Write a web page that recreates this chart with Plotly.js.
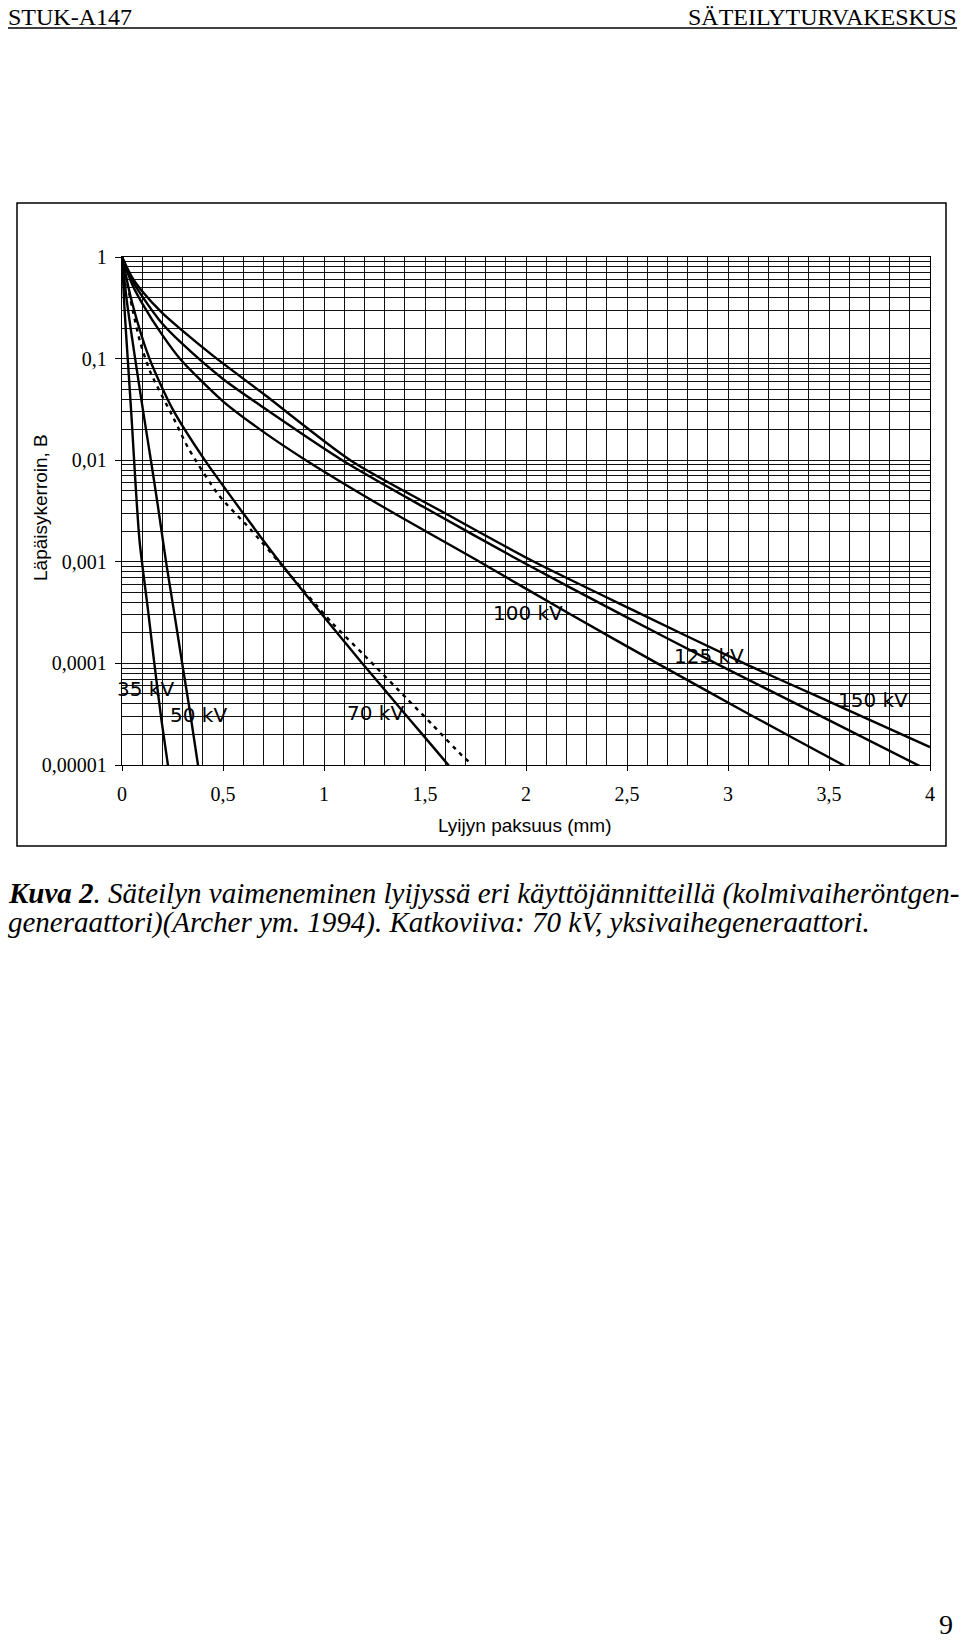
<!DOCTYPE html>
<html>
<head>
<meta charset="utf-8">
<script src="https://cdn.plot.ly/plotly-3.0.1.min.js"></script>
<style>
  html, body { margin: 0; padding: 0; background: #fff; }
  #graph { width: 960px; height: 1643px; }
</style>
</head>
<body>
<div id="graph"></div>
<script>
// Kuva 2 - lead thickness (mm) vs. transmission B
const x35 = [0, 0.012, 0.03, 0.048, 0.066, 0.087, 0.13, 0.16, 0.195, 0.231];
const b35 = [1, 0.32, 0.089, 0.025, 0.0063, 0.0016, 0.00032, 0.0001, 0.000028, 0.0000089];

const x50 = [0, 0.025, 0.065, 0.105, 0.143, 0.18, 0.218, 0.258, 0.298, 0.338, 0.38];
const b50 = [1, 0.355, 0.1, 0.03, 0.01, 0.0033, 0.001, 0.00032, 0.0001, 0.000032, 0.0000089];

const x70 = [0, 0.05, 0.136, 0.25, 0.41, 0.6, 0.78, 0.98, 1.19, 1.4, 1.615, 1.63];
const b70 = [1, 0.355, 0.1, 0.032, 0.01, 0.003, 0.001, 0.00032, 0.0001, 0.000032, 0.00001, 0.0000091];

// dotted: 70 kV, single phase generator
const x70single = [0, 0.05, 0.09, 0.14, 0.255, 0.33, 0.48, 0.635, 0.79, 1.04, 1.2, 1.41, 1.54, 1.69, 1.72];
const b70single = [1, 0.32, 0.145, 0.074, 0.026, 0.013, 0.0045, 0.0021, 0.00093, 0.00025, 0.00012, 0.000045, 0.0000245, 0.000012, 0.0000107];

const x100 = [0, 0.05, 0.1, 0.2, 0.29, 0.5, 0.7, 0.91, 1.3, 1.77, 2.2, 2.65, 3.1, 3.57, 3.61];
const b100 = [1, 0.54, 0.35, 0.17, 0.098, 0.038, 0.019, 0.01, 0.0034, 0.001, 0.00032, 0.0001, 0.000032, 0.00001, 0.0000091];

const x125 = [0, 0.05, 0.1, 0.2, 0.29, 0.5, 0.7, 1.09, 1.5, 1.98, 2.45, 2.94, 3.45, 3.97];
const b125 = [1, 0.59, 0.41, 0.22, 0.145, 0.063, 0.033, 0.01, 0.0034, 0.001, 0.00032, 0.0001, 0.000031, 0.0000093];

const x150 = [0, 0.05, 0.1, 0.2, 0.29, 0.45, 0.7, 1.13, 1.6, 2.04, 2.55, 3.08, 3.55, 4.0];
const b150 = [1, 0.63, 0.46, 0.28, 0.195, 0.107, 0.045, 0.01, 0.003, 0.001, 0.00032, 0.0001, 0.000038, 0.000015];

const curveNames = ['35 kV', '50 kV', '70 kV', '100 kV', '125 kV', '150 kV'];

const xTickVals = [0, 0.5, 1, 1.5, 2, 2.5, 3, 3.5, 4];
const xTickText = ['0', '0,5', '1', '1,5', '2', '2,5', '3', '3,5', '4'];
const yTickVals = [1, 0.1, 0.01, 0.001, 0.0001, 0.00001];
const yTickText = ['1', '0,1', '0,01', '0,001', '0,0001', '0,00001'];

// plot area in page pixels
const L = 122, T = 257, W = 808, H = 508;
function xp(px) { return (px - L) / W; }
function yp(py) { return (T + H - py) / H; }

// 2..9 lines inside every decade
const yMinor = [];
for (let e = -5; e < 0; e++) {
    for (let m = 2; m <= 9; m++) yMinor.push(m * Math.pow(10, e));
}

function curve(x, y, dash) {
    return {
        x: x,
        y: y,
        type: 'scatter',
        mode: 'lines',
        line: { color: '#000', width: 2.4, shape: 'spline', smoothing: 0.7, dash: dash || 'solid' },
        hoverinfo: 'skip',
        showlegend: false
    };
}

const traces = [
    curve(x35, b35),
    curve(x50, b50),
    curve(x70, b70),
    curve(x70single, b70single, '4px,5px'),
    curve(x100, b100),
    curve(x125, b125),
    curve(x150, b150)
];

const serif = 'Liberation Serif, Times New Roman, serif';
const sans = 'Liberation Sans, Arial, sans-serif';
const labelFont = { family: 'DejaVu Sans, sans-serif', size: 20, color: '#000' };

// curve labels: [x mm, log10 B]
const labelPos = [[0.118, -4.25], [0.378, -4.51], [1.254, -4.49], [2.011, -3.5], [2.907, -3.93], [3.719, -4.36]];

const annotations = curveNames.map((name, i) => ({
    x: labelPos[i][0], y: labelPos[i][1], xref: 'x', yref: 'y',
    text: name, showarrow: false, font: labelFont,
    xanchor: 'center', yanchor: 'middle'
}));

function pageText(text, x, y, xanchor, font, extra) {
    return Object.assign({
        xref: 'paper', yref: 'paper', x: xp(x), y: yp(y),
        text: text, showarrow: false, xanchor: xanchor, yanchor: 'middle', font: font
    }, extra || {});
}

annotations.push(
    pageText('STUK-A147', 6, 17, 'left', { family: serif, size: 24, color: '#000' }),
    pageText('SÄTEILYTURVAKESKUS', 959, 17, 'right', { family: serif, size: 24, color: '#000' }),
    pageText('Lyijyn paksuus (mm)', 525, 825, 'center', { family: sans, size: 19, color: '#000' }),
    pageText('Läpäisykerroin, B', 40, 508, 'center', { family: sans, size: 19, color: '#000' }, { textangle: -90 }),
    pageText('<b><i>Kuva 2</i></b><i>. Säteilyn vaimeneminen lyijyssä eri käyttöjännitteillä (kolmivaiheröntgen-</i>',
        6, 893, 'left', { family: serif, size: 29, color: '#000' }),
    pageText('<i>generaattori)(Archer ym. 1994). Katkoviiva: 70 kV, yksivaihegeneraattori.</i>',
        6, 922, 'left', { family: serif, size: 29, color: '#000' }),
    pageText('9', 955, 1624, 'right', { family: serif, size: 28, color: '#000' })
);

const shapes = [
    { type: 'rect', xref: 'paper', yref: 'paper', x0: xp(17), x1: xp(946), y0: yp(846), y1: yp(203),
      line: { color: '#000', width: 1.5 }, layer: 'below' },
    { type: 'line', xref: 'paper', yref: 'paper', x0: xp(8), x1: xp(957), y0: yp(28), y1: yp(28),
      line: { color: '#000', width: 1.5 } }
];

const layout = {
    width: 960,
    height: 1643,
    margin: { l: L, r: 960 - L - W, t: T, b: 1643 - T - H },
    paper_bgcolor: '#fff',
    plot_bgcolor: '#fff',
    showlegend: false,
    xaxis: {
        range: [0, 4],
        tickmode: 'array',
        tickvals: xTickVals,
        ticktext: xTickText,
        ticks: 'outside',
        ticklen: 5,
        tickcolor: '#000',
        ticklabelstandoff: 6,
        tickfont: { family: serif, size: 20, color: '#000' },
        showgrid: true,
        gridcolor: '#111',
        gridwidth: 1,
        minor: { tickmode: 'linear', tick0: 0, dtick: 0.1, showgrid: true, gridcolor: '#111', gridwidth: 1, ticks: '' },
        showline: true,
        linecolor: '#000',
        linewidth: 1.2,
        mirror: true,
        zeroline: false,
        fixedrange: true
    },
    yaxis: {
        type: 'log',
        range: [-5, 0],
        tickmode: 'array',
        tickvals: yTickVals,
        ticktext: yTickText,
        ticks: 'outside',
        ticklen: 6,
        tickcolor: '#000',
        ticklabelstandoff: 4,
        tickfont: { family: serif, size: 20, color: '#000' },
        showgrid: true,
        gridcolor: '#111',
        gridwidth: 1,
        minor: { tickmode: 'array', tickvals: yMinor, showgrid: true, gridcolor: '#111', gridwidth: 1, ticks: '' },
        showline: true,
        linecolor: '#000',
        linewidth: 1.2,
        mirror: true,
        zeroline: false,
        fixedrange: true
    },
    annotations: annotations,
    shapes: shapes
};

const graph = document.getElementById('graph');
Plotly.newPlot(graph, traces, layout, {
    displayModeBar: false,
    staticPlot: true
});
</script>
</body>
</html>
